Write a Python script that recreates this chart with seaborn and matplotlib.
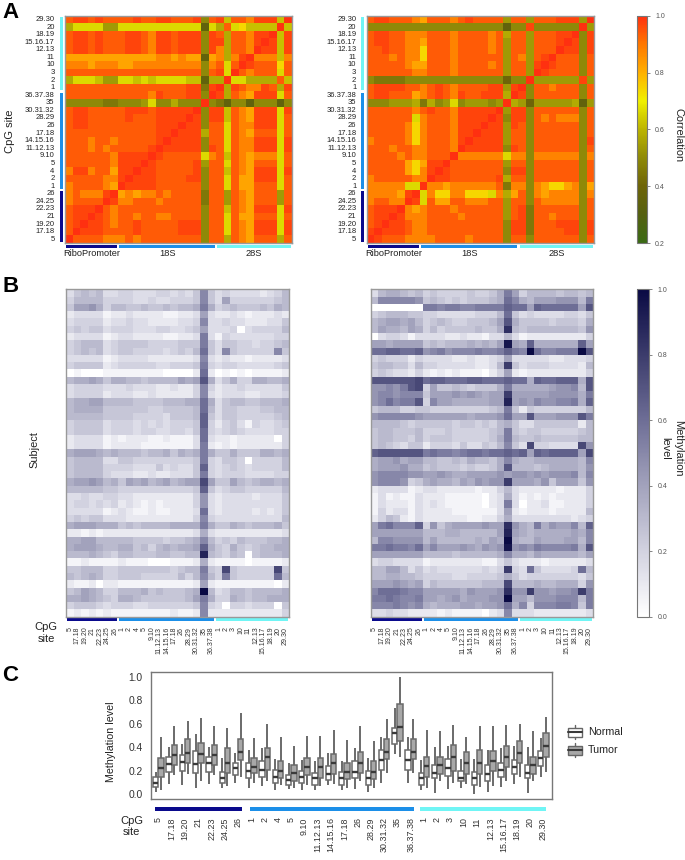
import numpy as np
import pandas as pd
import matplotlib
matplotlib.use("Agg")
import matplotlib.pyplot as plt
import seaborn as sns
from matplotlib.colors import LinearSegmentedColormap
from matplotlib.patches import Rectangle

W, H = 685, 860

SITES = ["5", "17.18", "19.20", "21", "22.23", "24.25", "26",
         "1", "2", "4", "5", "9.10", "11.12.13", "14.15.16", "17.18", "26", "28.29",
         "30.31.32", "35", "36.37.38",
         "1", "2", "3", "10", "11", "12.13", "15.16.17", "18.19", "20", "29.30"]
REGIONS = ["RiboPromoter", "18S", "28S"]
REGION_COLORS = ["#0a0a8c", "#1c8fe8", "#70f5f5"]

# correlation, upper triangle by site, one char per cell, int(c, 17) indexes CORR_LEVELS
CORR_LEVELS = [.2, .25, .3, .35, .4, .45, .5, .54, .58, .62, .66, .74, .82, .88, .94, .97, 1.0]
CORR_NORMAL = [
    "geeeedd dedeeeeeeee6e e8edceee8e",
    "gfffee eefeeeeefff6e eaedcfffaf",
    "gffed eefeeeeefff6e eaedcfffaf",
    "gfed eedeeddeeee6e eaecceeeae",
    "ged eeeeeeeeeee6e e9edcfffaf",
    "gf ddeeedeeeee5e e7edceee7e",
    "g cdcddedeeee5e e7edceee7e",
    "gffffeeeeee6e eaecceeeae",
    "gfffeeeeff6e eaeccfffae",
    "gffeeeeef6e e9edcfffaf",
    "gfeeeeef7e eaedceeeae",
    "gfeeeeead e9edcdddae",
    "gfffff6f eaeddfffaf",
    "gffff6e eaeddfffaf",
    "gfff8e eaedceeeae",
    "gff6e eaeddfffae",
    "gf6f f9edcfffae",
    "g6f f9edcfffaf",
    "g6 5366366636",
    "g f8edcfffae",
    "g8feddfe8f",
    "gaa8888e9",
    "gedeeeae",
    "gfeeebe",
    "gddd9d",
    "gff9f",
    "gf9f",
    "g9f",
    "g9",
    "g",
]
CORR_TUMOR = [
    "gfeeedd ddeeeedeeee6e e6eeeeee6e",
    "gfffed deeeeeeeeee6f f5eeeeff6f",
    "gffed deeeeeeeeee6f f5eeefff6f",
    "gfdd deeeedeeeee7e f5eedeee6e",
    "gdc deeedeeeeee7e f5eeeeee6e",
    "gf aecceedddee7e e6eddddd6e",
    "g adbbddbbbad8c e6dcdddd6d",
    "gddcdddddde5d d6dcbbcd6c",
    "gffeeeeeef8e e6eeeeee6e",
    "gfeeeeeee6f f6eeeeee6e",
    "geeeeeee7e e6eeeeee6e",
    "gddddddad d6dddddd6d",
    "gfffff6f e6eeeeee6e",
    "gffff7e e6eeeeee6f",
    "gfff7e e6eeeeee6e",
    "gff7f e6eeeeee6e",
    "gf6f f6ededdd6e",
    "g7f f6eeeeee6e",
    "g8 7477777837",
    "g f6eeeeee6e",
    "g6eedeee6e",
    "g777777f7",
    "gfeeee6e",
    "gfeee6e",
    "geee6e",
    "gff6f",
    "gf6f",
    "g6f",
    "g7",
    "g",
]

# methylation, subject by site, one char per cell: 0.05 * int(c, 21)
METH_NORMAL = [
    "3565633 4433344343 5a5 3433332346",
    "4666644 4433433444 5a5 3844444456",
    "5889746 6556556566 7b7 4565556576",
    "2333312 2322221122 383 2232122232",
    "3444423 3433222233 4a3 3433222335",
    "4545534 4433344334 583 3340344446",
    "2333312 3322221122 3b3 1433333344",
    "4566634 5555444455 5b5 3554434456",
    "4565634 5544443454 6c5 3a544444a5",
    "3333312 3333222222 3a3 2322122223",
    "4555523 4444433444 5b4 3443333345",
    "0100011 1111110000 2c2 0101011112",
    "6778757 7665666687 8e7 3574477667",
    "3444433 3433322322 4a4 2334333335",
    "3444423 3322322222 4a3 2333223334",
    "6778866 6655556667 7c7 3566556667",
    "6777755 5555445555 6c6 3554445566",
    "6666655 5544443555 6d5 3554444456",
    "4555534 4434343444 5d4 2453143345",
    "4555534 4434433443 5c4 3454333344",
    "2333312 1222112111 3c3 2212222204",
    "2333312 2221111111 3b2 1212222224",
    "7888767 6665667576 7b7 5575557767",
    "5666633 5544444444 5b4 3554044446",
    "5666644 4433353433 5d4 3454344446",
    "5666643 3322322333 5b4 3444333344",
    "7889867 5878678678 8f8 5586567767",
    "6666655 4444444444 5d5 3455444446",
    "3343344 3322222222 493 2333323335",
    "3443434 2321212222 493 2333333335",
    "3333312 3211211222 3c3 2333323235",
    "4545533 3222222222 4a4 3333333336",
    "7888777 5656666777 7b7 5576566675",
    "2212122 2222222222 373 2222222223",
    "7788666 6655554556 7a6 4546555667",
    "7888766 7756467677 8d7 5475456677",
    "6667654 6655566556 6i6 5465056667",
    "1121111 2111000111 272 1111011112",
    "5566644 5555555456 6b5 4f544444f5",
    "6567644 5554444464 6a6 4b544444c6",
    "2112022 1111111111 282 1111111102",
    "5687644 6667565556 7k6 3466566667",
    "7787654 7765555556 8b7 4476566777",
    "4555434 4433444444 5a4 3044344405",
    "1212121 1111111211 2a2 2222222224",
]
METH_TUMOR = [
    "3677656 4544445445 7b8 4666656656",
    "6aaaaa9 5654545556 7ca 768889996b",
    "0000000 bbabbaabbb bdc c8dccccc8e",
    "4566655 4433333444 6c5 3433334435",
    "6788786 4565445556 8e7 5555455547",
    "6877687 4645555655 7h6 5666666659",
    "0344313 3332232213 363 1222222224",
    "8878888 5656667676 8j8 7d777777d8",
    "ccddccd 9ab9aaabaa bdb akcaabbbke",
    "4544424 3333223223 483 3333223334",
    "5665536 4433333223 6g5 3444333326",
    "4543324 2121211102 482 1222222224",
    "eeeeeef cddcccddcc cdc c7dccddd7e",
    "99a9bef 4855654555 7b7 7777899a6e",
    "9aa9aaa 5888989878 8g8 888899997b",
    "9acabbe 4a88777778 8i8 98a99aab7d",
    "5666445 5444444445 6b5 2544444446",
    "9aaaaa9 8888887888 9c8 8e888999eb",
    "6666545 5555455454 675 3355555526",
    "5665556 4445444445 6b5 4554444456",
    "5665546 4555444445 7b6 5565555566",
    "5654355 2444353354 6a5 3f443333f9",
    "deeeeee bcbbabccbc cdc d8dcdddd8f",
    "7889788 6655657665 7a7 667777776a",
    "7888977 5655545445 7e6 6656777769",
    "9aaaa99 8898778888 989 9898999a6a",
    "9aaa945 7877687989 9g8 8879588859",
    "2333312 3322222122 463 2222212224",
    "1312113 2221111102 373 1212122224",
    "1322213 2321111102 3b3 0223112224",
    "1423313 2222111111 382 1222122226",
    "2465213 2222221122 473 3333333234",
    "8bcaaad 4957888898 8h9 76b7988a6d",
    "8888888 6667766666 8i8 767777787a",
    "6aa9999 6866666768 7k7 668777886a",
    "bbcbbac 8a88898798 9j9 a9baaaab7e",
    "8888888 6666566666 7a7 7687777768",
    "3443333 1222222211 353 2221222223",
    "6688635 3433333343 4g4 3c533334c6",
    "6677665 4444334444 575 3444444435",
    "8889878 4655555566 6f6 6676677749",
    "acccbaa 8888879888 9h9 9g99899agb",
    "bbcbaab 8878978889 9k8 86999aaa6b",
    "aaaba9a 7677788788 9c7 a4aaabba5b",
    "3343322 2212111102 3a3 3322222223",
]

# box stats per site: whisker low, q1, median, q3, whisker high
BOX_NORMAL = [
    (.02, .065, .10, .15, .19), (.09, .19, .26, .32, .405), (.08, .20, .275, .33, .425),
    (.05, .18, .26, .37, .515), (.09, .19, .265, .32, .405), (.05, .10, .135, .19, .31),
    (.10, .16, .22, .27, .35), (.05, .14, .20, .27, .38), (.07, .15, .21, .28, .39),
    (.04, .10, .145, .21, .30), (.045, .08, .12, .16, .27), (.035, .10, .145, .20, .29),
    (.04, .08, .135, .18, .28), (.075, .12, .17, .24, .35), (.035, .08, .135, .19, .28),
    (.045, .14, .19, .28, .39), (.02, .08, .135, .20, .31), (.10, .21, .29, .38, .49),
    (.34, .43, .52, .56, .735), (.10, .21, .29, .38, .49), (.035, .08, .135, .18, .29),
    (.015, .14, .185, .25, .40), (.045, .155, .225, .30, .41), (.055, .11, .135, .20, .30),
    (.005, .08, .14, .19, .30), (.02, .11, .17, .25, .38), (.065, .15, .21, .27, .39),
    (.09, .17, .235, .29, .41), (.015, .14, .185, .25, .40), (.15, .24, .31, .37, .475),
]
BOX_TUMOR = [
    (.04, .145, .22, .31, .485), (.165, .245, .33, .42, .58), (.17, .27, .35, .47, .62),
    (.115, .265, .34, .435, .645), (.165, .245, .33, .42, .58), (.07, .185, .265, .39, .565),
    (.15, .29, .36, .47, .69), (.10, .18, .23, .31, .48), (.11, .21, .32, .39, .60),
    (.08, .135, .20, .28, .49), (.05, .11, .185, .245, .41), (.08, .16, .23, .31, .50),
    (.07, .14, .23, .31, .50), (.09, .17, .265, .34, .55), (.05, .13, .19, .27, .46),
    (.11, .18, .265, .36, .58), (.05, .13, .19, .28, .45), (.18, .30, .36, .47, .64),
    (.32, .45, .57, .77, .995), (.18, .30, .36, .47, .64), (.05, .15, .24, .32, .55),
    (.11, .17, .25, .32, .54), (.10, .20, .315, .42, .59), (.09, .17, .265, .36, .49),
    (.065, .17, .265, .38, .58), (.07, .20, .28, .37, .58), (.11, .23, .32, .41, .59),
    (.145, .265, .35, .45, .60), (.11, .17, .25, .32, .54), (.19, .32, .41, .52, .655),
]

CORR_CMAP = LinearSegmentedColormap.from_list("corr", [
    (0.0, "#3a6a14"), (0.125, "#556010"), (0.25, "#6e6408"), (0.375, "#8f8a08"),
    (0.5, "#bcb400"), (0.625, "#f0f000"), (0.75, "#ffb000"), (0.875, "#ff7800"),
    (1.0, "#ff3010")])
METH_CMAP = LinearSegmentedColormap.from_list("meth", [
    (0.0, "#ffffff"), (0.2, "#d2d2e0"), (0.4, "#a2a2bc"), (0.6, "#6e6e96"),
    (0.8, "#3c3c6c"), (1.0, "#0a0a44")])


def decode_corr(rows):
    m = np.zeros((30, 30))
    for i, row in enumerate(rows):
        vals = [CORR_LEVELS[int(c, 17)] for c in row.replace(" ", "")]
        m[i, i:] = vals
        m[i:, i] = vals
    return m[::-1]


def decode_meth(rows):
    return np.array([[0.05 * int(c, 21) for c in r.replace(" ", "")] for r in rows])


def px_axes(fig, left, top, right, bottom):
    return fig.add_axes([left / W, 1 - bottom / H, (right - left) / W, (bottom - top) / H])


def frame(ax, color="#999999"):
    for s in ax.spines.values():
        s.set_visible(True)
        s.set_color(color)
        s.set_linewidth(1)


def style_cbar(ax, ticks):
    cbar = ax.collections[0].colorbar
    cbar.set_ticks(ticks)
    cbar.ax.set_yticklabels(["%.1f" % t for t in ticks], fontsize=5, color="#555555")
    cbar.ax.tick_params(length=2, width=0.5, color="#555555", pad=4)
    cbar.outline.set_edgecolor("#777777")
    cbar.outline.set_linewidth(0.8)


sns.set_theme(style="white")
plt.rcParams["font.family"] = ["Liberation Sans", "DejaVu Sans"]

fig = plt.figure(figsize=(W / 100, H / 100), dpi=100)

# panel A
ax_a1 = px_axes(fig, 65, 15.7, 291.7, 243)
ax_a2 = px_axes(fig, 366.7, 15.7, 594.3, 243)
cax_a = px_axes(fig, 637.3, 15.7, 646.7, 243)
sns.heatmap(decode_corr(CORR_NORMAL), ax=ax_a1, cmap=CORR_CMAP, vmin=0.2, vmax=1.0,
            xticklabels=False, yticklabels=SITES[::-1], cbar_ax=cax_a)
sns.heatmap(decode_corr(CORR_TUMOR), ax=ax_a2, cmap=CORR_CMAP, vmin=0.2, vmax=1.0,
            xticklabels=False, yticklabels=SITES[::-1], cbar=False)
style_cbar(ax_a1, [0.2, 0.4, 0.6, 0.8, 1.0])
spans = [(0.15, 6.85), (7.15, 19.85), (20.15, 29.85)]
for ax in (ax_a1, ax_a2):
    frame(ax)
    ax.tick_params(axis="y", length=0, pad=7.5, labelsize=5.5, labelcolor="#222222", rotation=0)
    for (x0, x1), col, name in zip(spans, REGION_COLORS, REGIONS):
        ax.add_patch(Rectangle((x0, 30.25), x1 - x0, 0.4, color=col, clip_on=False, lw=0))
        ax.text((x0 + x1) / 2, 31.45, name, ha="center", va="center", fontsize=6.7, color="#222222")
    # side bars run the other way, site 5 sits at the bottom
    for (x0, x1), col in zip(spans, REGION_COLORS):
        ax.add_patch(Rectangle((-0.72, 30 - x1), 0.42, x1 - x0, color=col, clip_on=False, lw=0))

# panel B
ax_b1 = px_axes(fig, 66.3, 289.3, 289.3, 616.7)
ax_b2 = px_axes(fig, 370.7, 289.3, 593.3, 616.7)
cax_b = px_axes(fig, 637.3, 289.3, 649.3, 616.7)
sns.heatmap(decode_meth(METH_NORMAL), ax=ax_b1, cmap=METH_CMAP, vmin=0, vmax=1,
            xticklabels=SITES, yticklabels=False, cbar_ax=cax_b)
sns.heatmap(decode_meth(METH_TUMOR), ax=ax_b2, cmap=METH_CMAP, vmin=0, vmax=1,
            xticklabels=SITES, yticklabels=False, cbar=False)
style_cbar(ax_b1, [0.0, 0.2, 0.4, 0.6, 0.8, 1.0])
for ax in (ax_b1, ax_b2):
    frame(ax)
    ax.tick_params(axis="x", length=0, pad=7.2, labelsize=5, labelcolor="#333333", rotation=90)
    for (x0, x1), col in zip(spans, REGION_COLORS):
        ax.add_patch(Rectangle((x0, 45.18), x1 - x0, 0.42, color=col, clip_on=False, lw=0))

# panel C
rows = []
for i in range(len(SITES)):
    for v in BOX_NORMAL[i]:
        rows.append((i, "Normal", v))
    for v in BOX_TUMOR[i]:
        rows.append((i, "Tumor", v))
df = pd.DataFrame(rows, columns=["site", "group", "level"])

ax_c = px_axes(fig, 151, 671.7, 551.7, 799.3)
sns.boxplot(df, x="site", y="level", hue="group", ax=ax_c, whis=(0, 100), width=0.8, gap=0.0,
            palette={"Normal": "white", "Tumor": "#a8a8a8"}, linecolor="#6a6a6a", linewidth=1.1,
            showcaps=False, saturation=1, legend=False,
            medianprops={"linewidth": 1.7, "color": "#3a3a3a"},
            whiskerprops={"linewidth": 1.4})
ax_c.set_xlim(-0.56, 29.62)
ax_c.set_ylim(-0.0425, 1.0425)
ax_c.set_yticks([0, 0.2, 0.4, 0.6, 0.8, 1.0])
ax_c.set_yticklabels(["0.0", "0.2", "0.4", "0.6", "0.8", "1.0"])
ax_c.set_xticks(range(len(SITES)))
ax_c.set_xticklabels(SITES, rotation=90)
ax_c.set_xlabel("")
ax_c.set_ylabel("")
frame(ax_c, "#777777")
ax_c.tick_params(axis="y", length=3, width=0.8, color="#777777", labelsize=7.4, labelcolor="#333333", pad=3)
ax_c.tick_params(axis="x", length=3, width=0.8, color="#777777", labelsize=6.4, labelcolor="#333333", pad=10)
trans = ax_c.get_xaxis_transform()
for (x0, x1), col in zip([(-0.26, 6.33), (6.88, 19.26), (19.7, 29.2)], REGION_COLORS):
    ax_c.add_patch(Rectangle((x0, -0.092), x1 - x0, 0.031, color=col, transform=trans, clip_on=False, lw=0))

# legend keys
ax_leg = px_axes(fig, 560, 720, 640, 762)
ax_leg.set_xlim(560, 640)
ax_leg.set_ylim(762, 720)
ax_leg.axis("off")
for yc, fc, name in [(732.5, "white", "Normal"), (750.5, "#a8a8a8", "Tumor")]:
    ax_leg.plot([574.8, 574.8], [yc - 7, yc + 7], color="#666666", lw=1)
    ax_leg.add_patch(Rectangle((568, yc - 4.8), 13.7, 9.6, fc=fc, ec="#666666", lw=1, zorder=3))
    ax_leg.plot([568, 581.7], [yc, yc], color="#3a3a3a", lw=1.5, zorder=4)
    ax_leg.text(588, yc, name, va="center", ha="left", fontsize=7.7, color="#222222")

# free text
def ftext(x, y, s, **kw):
    fig.text(x / W, 1 - y / H, s, ha=kw.pop("ha", "center"), va=kw.pop("va", "center"), **kw)

for letter, base in [("A", 18.5), ("B", 291.5), ("C", 681)]:
    ftext(2, base, letter, ha="left", va="baseline", fontsize=16, fontweight="bold", color="black")
ftext(9.6, 131, "CpG site", rotation=90, fontsize=8, color="#222222")
ftext(678, 135, "Correlation", rotation=270, fontsize=7.9, color="#222222")
ftext(34.3, 450, "Subject", rotation=90, fontsize=7.9, color="#222222")
ftext(678, 448, "Methylation", rotation=270, fontsize=7.9, color="#222222")
ftext(665.5, 448, "level", rotation=270, fontsize=7.9, color="#222222")
ftext(46, 633, "CpG\nsite", fontsize=8, color="#222222", linespacing=1.15)
ftext(111, 741.7, "Methylation level", rotation=90, fontsize=7.7, color="#222222")
ftext(131.7, 826.7, "CpG\nsite", fontsize=8, color="#222222", linespacing=1.15)

fig.savefig("out.png", dpi=100, facecolor="white")
